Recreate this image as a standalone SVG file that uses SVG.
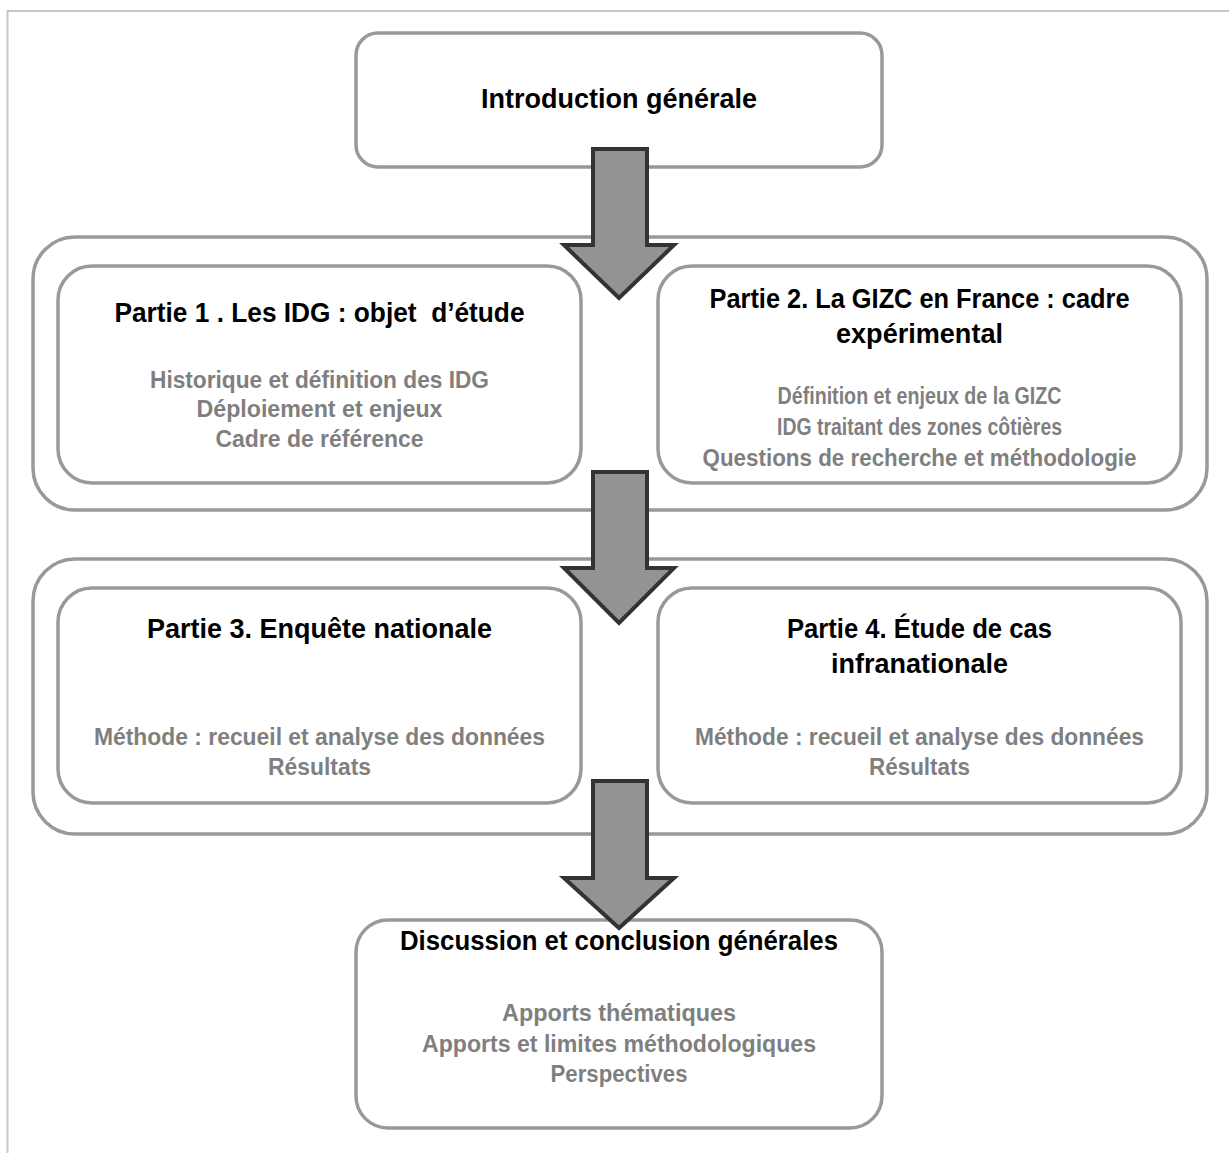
<svg xmlns="http://www.w3.org/2000/svg" width="1229" height="1153" viewBox="0 0 1229 1153">
<style>
.frame{fill:none;stroke:#c8c8c8;stroke-width:2}
.box{fill:#fff;stroke:#999;stroke-width:3.5}
.outer{fill:none;stroke:#999;stroke-width:3.5}
.arrow{fill:#939393;stroke:#333;stroke-width:4;stroke-linejoin:miter}
.t{font-family:"Liberation Sans",Arial,sans-serif;font-weight:bold;font-size:27px;fill:#000;text-anchor:middle}
.g{font-family:"Liberation Sans",Arial,sans-serif;font-weight:bold;font-size:23px;fill:#7f7f7f;text-anchor:middle}
</style>
<rect width="1229" height="1153" fill="#fff"/>
<rect class="frame" x="7.5" y="11" width="1260" height="1200"/>
<g id="group-parties-1-2"><rect class="outer" x="33" y="237" width="1174" height="273" rx="42"/></g>
<g id="group-parties-3-4"><rect class="outer" x="33" y="559" width="1174" height="275" rx="42"/></g>
<g id="intro">
<rect class="box" x="356" y="33" width="526" height="134" rx="22"/>
<text class="t" x="619" y="108" textLength="276" lengthAdjust="spacingAndGlyphs">Introduction générale</text>
</g>
<g id="partie1">
<rect class="box" x="58" y="266" width="523" height="217" rx="34"/>
<text class="t" x="319.5" y="322" textLength="410" lengthAdjust="spacingAndGlyphs" xml:space="preserve">Partie 1 . Les IDG : objet  d’étude</text>
<text class="g" x="319.5" y="388" textLength="339" lengthAdjust="spacingAndGlyphs">Historique et définition des IDG</text>
<text class="g" x="319.5" y="417" textLength="246" lengthAdjust="spacingAndGlyphs">Déploiement et enjeux</text>
<text class="g" x="319.5" y="447" textLength="208" lengthAdjust="spacingAndGlyphs">Cadre de référence</text>
</g>
<g id="partie2">
<rect class="box" x="658" y="266" width="523" height="217" rx="34"/>
<text class="t" x="919.5" y="308" textLength="420" lengthAdjust="spacingAndGlyphs">Partie 2. La GIZC en France : cadre</text>
<text class="t" x="919.5" y="343" textLength="167" lengthAdjust="spacingAndGlyphs">expérimental</text>
<text class="g" x="919.5" y="404" textLength="284" lengthAdjust="spacingAndGlyphs">Définition et enjeux de la GIZC</text>
<text class="g" x="919.5" y="435" textLength="285" lengthAdjust="spacingAndGlyphs">IDG traitant des zones côtières</text>
<text class="g" x="919.5" y="466" textLength="434" lengthAdjust="spacingAndGlyphs">Questions de recherche et méthodologie</text>
</g>
<g id="partie3">
<rect class="box" x="58" y="588" width="523" height="215" rx="34"/>
<text class="t" x="319.5" y="638" textLength="345" lengthAdjust="spacingAndGlyphs">Partie 3. Enquête nationale</text>
<text class="g" x="319.5" y="745" textLength="451" lengthAdjust="spacingAndGlyphs">Méthode : recueil et analyse des données</text>
<text class="g" x="319.5" y="775" textLength="103" lengthAdjust="spacingAndGlyphs">Résultats</text>
</g>
<g id="partie4">
<rect class="box" x="658" y="588" width="523" height="215" rx="34"/>
<text class="t" x="919.5" y="638" textLength="265" lengthAdjust="spacingAndGlyphs">Partie 4. Étude de cas</text>
<text class="t" x="919.5" y="673" textLength="177" lengthAdjust="spacingAndGlyphs">infranationale</text>
<text class="g" x="919.5" y="745" textLength="449" lengthAdjust="spacingAndGlyphs">Méthode : recueil et analyse des données</text>
<text class="g" x="919.5" y="775" textLength="101" lengthAdjust="spacingAndGlyphs">Résultats</text>
</g>
<g id="conclusion">
<rect class="box" x="356" y="920" width="526" height="208" rx="32"/>
<text class="t" x="619" y="950" textLength="438" lengthAdjust="spacingAndGlyphs">Discussion et conclusion générales</text>
<text class="g" x="619" y="1021" textLength="234" lengthAdjust="spacingAndGlyphs">Apports thématiques</text>
<text class="g" x="619" y="1052" textLength="394" lengthAdjust="spacingAndGlyphs">Apports et limites méthodologiques</text>
<text class="g" x="619" y="1082" textLength="137" lengthAdjust="spacingAndGlyphs">Perspectives</text>
</g>
<g id="connectors">
<polygon class="arrow" points="593,149 647,149 647,245 674,245 619,298 564,245 593,245"/>
<polygon class="arrow" points="593,472 647,472 647,568 674,568 619,623 564,568 593,568"/>
<polygon class="arrow" points="593,781 647,781 647,878 674,878 619,928 564,878 593,878"/>
</g>
</svg>
